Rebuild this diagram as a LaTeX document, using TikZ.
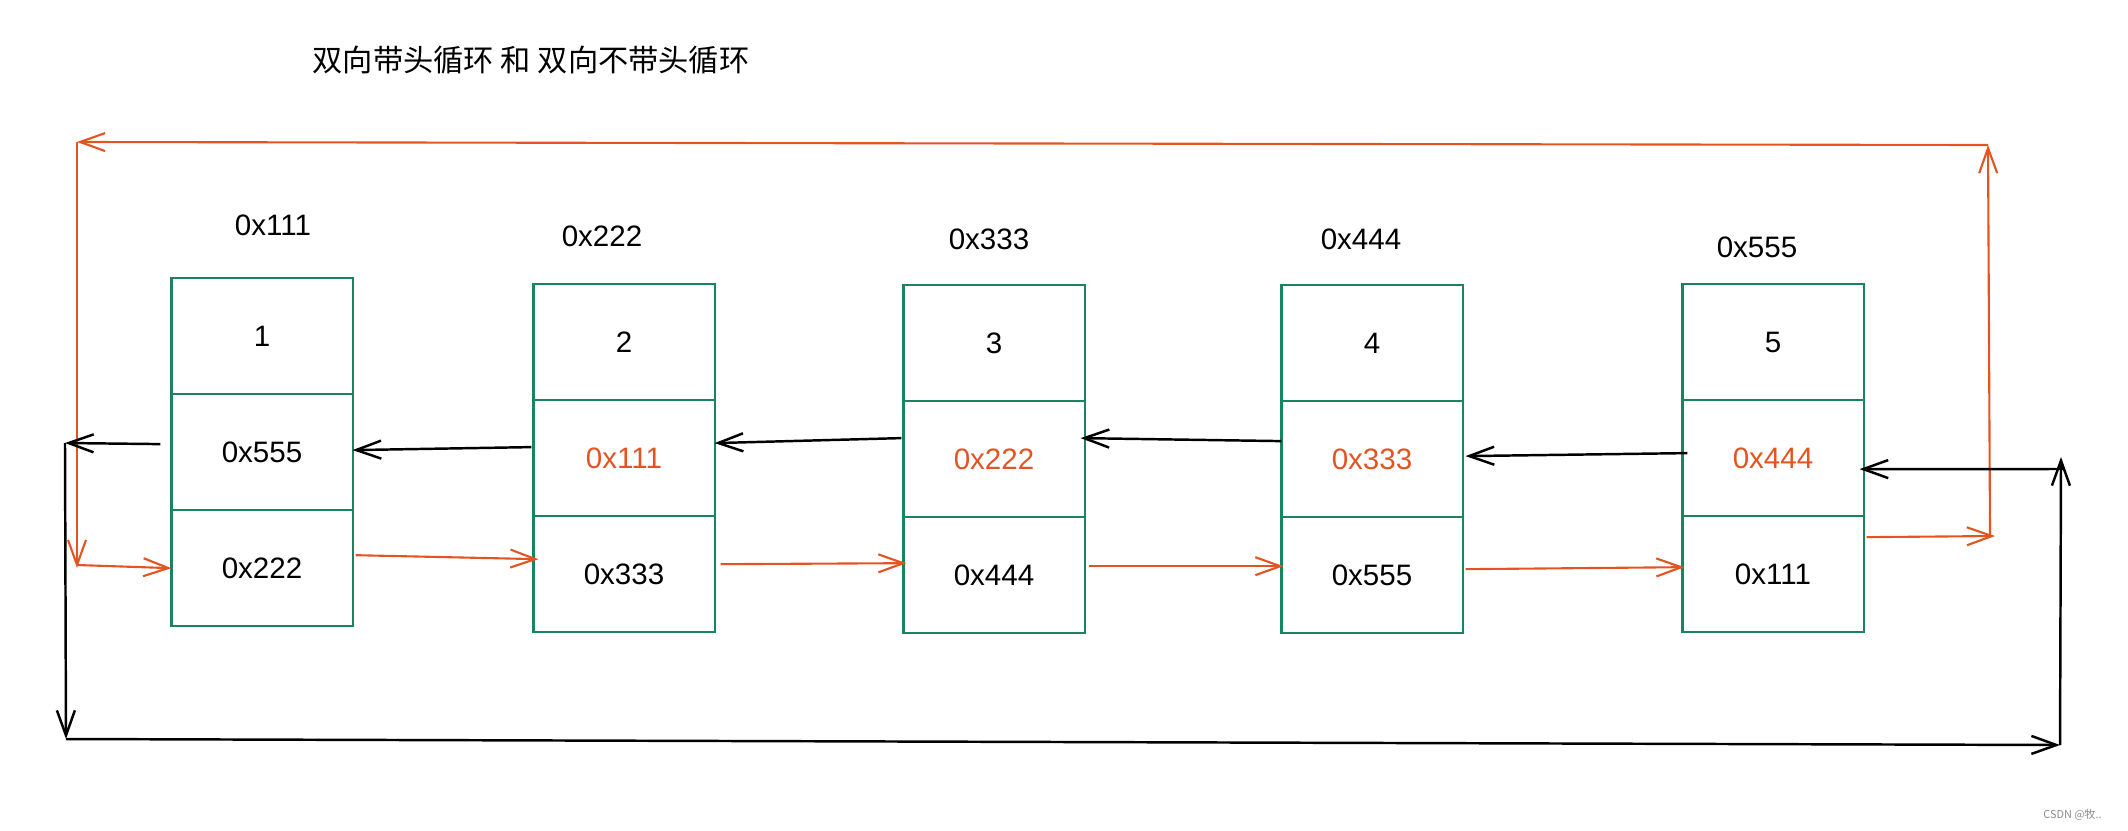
\documentclass[tikz,border=0pt]{standalone}
\usepackage{fontspec}
\setmainfont{Liberation Sans}
\newfontfamily\cjk{Noto Sans CJK SC}
\usepackage{xcolor}
\usepackage{tikz}
\usetikzlibrary{arrows.meta, positioning, calc}
\definecolor{myorange}{RGB}{228, 84, 32}
\definecolor{mygreen}{RGB}{24, 132, 96}

\begin{document}
\begin{tikzpicture}[x=0.01cm, y=-0.01cm,
    font=\fontsize{8.4}{10}\selectfont,
    cell/.style={draw=mygreen, line width=0.6pt, minimum width=1.81cm, minimum height=1.16cm, inner sep=0pt, outer sep=0pt},
    oarr/.style={draw=myorange, line width=0.6pt, -{Straight Barb[length=2.5mm, width=1.8mm]}},
    barr/.style={draw=black, line width=0.7pt, -{Straight Barb[length=2.5mm, width=1.8mm]}}]
    \useasboundingbox (0,0) rectangle (2128,830);

    % 标题
    \node[font=\cjk\fontsize{8.6}{10}\selectfont] (title) at (531,60) {双向带头循环 和 双向不带头循环};

    % 五个结点: 数据 / 前驱 / 后继, 上方为地址
    \foreach \n/\x/\y/\adr/\lx/\ly/\prv/\nxt/\c in {1/262/278/0x111/273/225/0x555/0x222/black,
        2/624/284/0x222/602/236/0x111/0x333/myorange,
        3/994/285/0x333/989/239/0x222/0x444/myorange,
        4/1372/285/0x444/1361/239/0x333/0x555/myorange,
        5/1773/284/0x555/1757/247/0x444/0x111/myorange} {
        \node[cell, anchor=north] (b\n-d) at (\x,\y) {\n};
        \node[cell, below=0pt of b\n-d, text=\c] (b\n-p) {\prv};
        \node[cell, below=0pt of b\n-p] (b\n-n) {\nxt};
        \node[inner sep=0pt] (a\n) at (\lx,\ly) {\adr};
    }

    % prev 指针
    \foreach \a/\b/\ax/\ay/\bx/\by in {2/1/-2/-11/0/-2, 3/2/-2/-21/0/-15, 4/3/0/-18/-4/-21, 5/4/5/-5/3/-3}
        \draw[barr] ($(b\a-p.west)+(\ax,\ay)$) -- ($(b\b-p.east)+(\bx,\by)$);

    % next 指针
    \foreach \a/\b/\ax/\ay/\bx/\by in {1/2/3/-13/5/-15, 2/3/6/-10/3/-12, 3/4/4/-9/2/-9, 4/5/3/-6/2/-7}
        \draw[oarr] ($(b\a-n.east)+(\ax,\ay)$) -- ($(b\b-n.west)+(\bx,\by)$);

    % 尾结点 next 回到头
    \coordinate (o1) at (1995,536);
    \coordinate (o2) at (1988,145);
    \coordinate (o3) at (77,142);
    \coordinate (o4) at (77,568);
    \draw[oarr] ($(b5-n.east)+(3,-37)$) -- (o1);
    \draw[oarr] ($(o1)+(-5,0)$) -- (o2);
    \draw[oarr] (o2) -- (o3);
    \draw[oarr] (o3) -- (o4);
    \draw[oarr] ($(o4)+(0,-3)$) -- (b1-n.west);

    % 头结点 prev 指向尾
    \coordinate (k1) at (65,443);
    \coordinate (k2) at (66,739);
    \coordinate (k3) at (2060,745);
    \coordinate (k4) at (2061,457);
    \coordinate (k5) at (2063,469);
    \draw[barr] ($(b1-p.west)+(-11,-8)$) -- (k1);
    \draw[barr] (k1) -- (k2);
    \draw[barr] (k2) -- (k3);
    \draw[barr] (k3) -- (k4);
    \draw[barr] (k5) -- ($(b5-p.east)+(-4,11)$);

    % 水印
    \node[text=black!45, font=\cjk\fontsize{3.1}{4}\selectfont, anchor=east] (wm) at (2114,815) {CSDN @牧..};
\end{tikzpicture}
\end{document}
